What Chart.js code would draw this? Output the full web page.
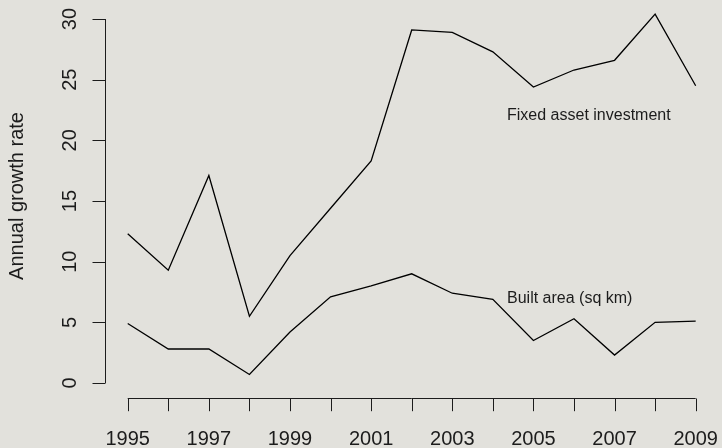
<!DOCTYPE html>
<html>
<head>
<meta charset="utf-8">
<script src="https://cdn.jsdelivr.net/npm/chart.js@4/dist/chart.umd.min.js"></script>
<style>
    html, body { margin: 0; padding: 0; background: #e2e1dc; }
    #wrap { width: 722px; height: 448px; position: relative; }
</style>
</head>
<body>
<div id="wrap"><canvas id="growthChart"></canvas></div>
<script>
// Data
const years = [1995, 1996, 1997, 1998, 1999, 2000, 2001, 2002, 2003, 2004, 2005, 2006, 2007, 2008, 2009];
const fixedAsset = [12.3, 9.3, 17.1, 5.5, 10.5, 14.4, 18.3, 29.1, 28.9, 27.3, 24.4, 25.8, 26.6, 30.4, 24.5];
const builtArea = [4.9, 2.8, 2.8, 0.7, 4.2, 7.1, 8.0, 9.0, 7.4, 6.9, 3.5, 5.3, 2.3, 5.0, 5.1];
const yTicks = [0, 5, 10, 15, 20, 25, 30];
const xTickLabels = [1995, 1997, 1999, 2001, 2003, 2005, 2007, 2009];
const seriesLabels = ['Fixed asset investment', 'Built area (sq km)'];
const labelX = [2004.35, 2004.35];
const labelY = [21.7, 6.6];

const ink = '#1c1c1c';
const font = '"Liberation Sans", Arial, sans-serif';

// R-style base graphics axes, drawn through the chart scales
const rAxes = {
    id: 'rAxes',
    afterDatasetsDraw(chart) {
        const { ctx, scales: { x, y } } = chart;
        ctx.save();
        ctx.strokeStyle = ink;
        ctx.fillStyle = ink;
        ctx.lineWidth = 1;

        // x axis
        const xAxisY = chart.chartArea.bottom - 0.5;
        ctx.beginPath();
        ctx.moveTo(x.getPixelForValue(years[0]), xAxisY);
        ctx.lineTo(x.getPixelForValue(years[years.length - 1]), xAxisY);
        years.forEach(yr => {
            const px = Math.round(x.getPixelForValue(yr)) + 0.5;
            ctx.moveTo(px, xAxisY);
            ctx.lineTo(px, xAxisY + 12.7);
        });
        ctx.stroke();

        ctx.font = '20px ' + font;
        ctx.textAlign = 'center';
        ctx.textBaseline = 'alphabetic';
        xTickLabels.forEach(yr => {
            ctx.fillText(String(yr), x.getPixelForValue(yr), 445);
        });

        // y axis
        const yAxisX = chart.chartArea.left + 0.5;
        ctx.beginPath();
        ctx.moveTo(yAxisX, y.getPixelForValue(yTicks[0]));
        ctx.lineTo(yAxisX, y.getPixelForValue(yTicks[yTicks.length - 1]));
        yTicks.forEach(v => {
            const py = Math.round(y.getPixelForValue(v)) + 0.5;
            ctx.moveTo(yAxisX, py);
            ctx.lineTo(yAxisX - 13, py);
        });
        ctx.stroke();

        yTicks.forEach(v => {
            ctx.save();
            ctx.translate(76, y.getPixelForValue(v));
            ctx.rotate(-Math.PI / 2);
            ctx.fillText(String(v), 0, 0);
            ctx.restore();
        });

        // y title
        ctx.save();
        ctx.translate(23, 196);
        ctx.rotate(-Math.PI / 2);
        ctx.fillText('Annual growth rate', 0, 0);
        ctx.restore();

        // series labels
        ctx.font = '16px ' + font;
        ctx.textAlign = 'left';
        seriesLabels.forEach((txt, i) => {
            ctx.fillText(txt, x.getPixelForValue(labelX[i]), y.getPixelForValue(labelY[i]));
        });

        ctx.restore();
    }
};

const toPoints = vals => vals.map((v, i) => ({ x: years[i], y: v }));

new Chart(document.getElementById('growthChart'), {
    type: 'line',
    data: {
        datasets: [
            { label: seriesLabels[0], data: toPoints(fixedAsset), borderColor: '#000', borderWidth: 1.3, pointRadius: 0, tension: 0, fill: false },
            { label: seriesLabels[1], data: toPoints(builtArea), borderColor: '#000', borderWidth: 1.3, pointRadius: 0, tension: 0, fill: false }
        ]
    },
    options: {
        responsive: true,
        maintainAspectRatio: false,
        animation: false,
        devicePixelRatio: 1,
        layout: { padding: { left: 105, right: 3.6, top: 0, bottom: 49 } },
        plugins: { legend: { display: false }, tooltip: { enabled: false } },
        scales: {
            x: { type: 'linear', min: 1994.44, max: 2009.56, display: false },
            y: { type: 'linear', min: -1.32, max: 31.57, display: false }
        }
    },
    plugins: [rAxes]
});
</script>
</body>
</html>
